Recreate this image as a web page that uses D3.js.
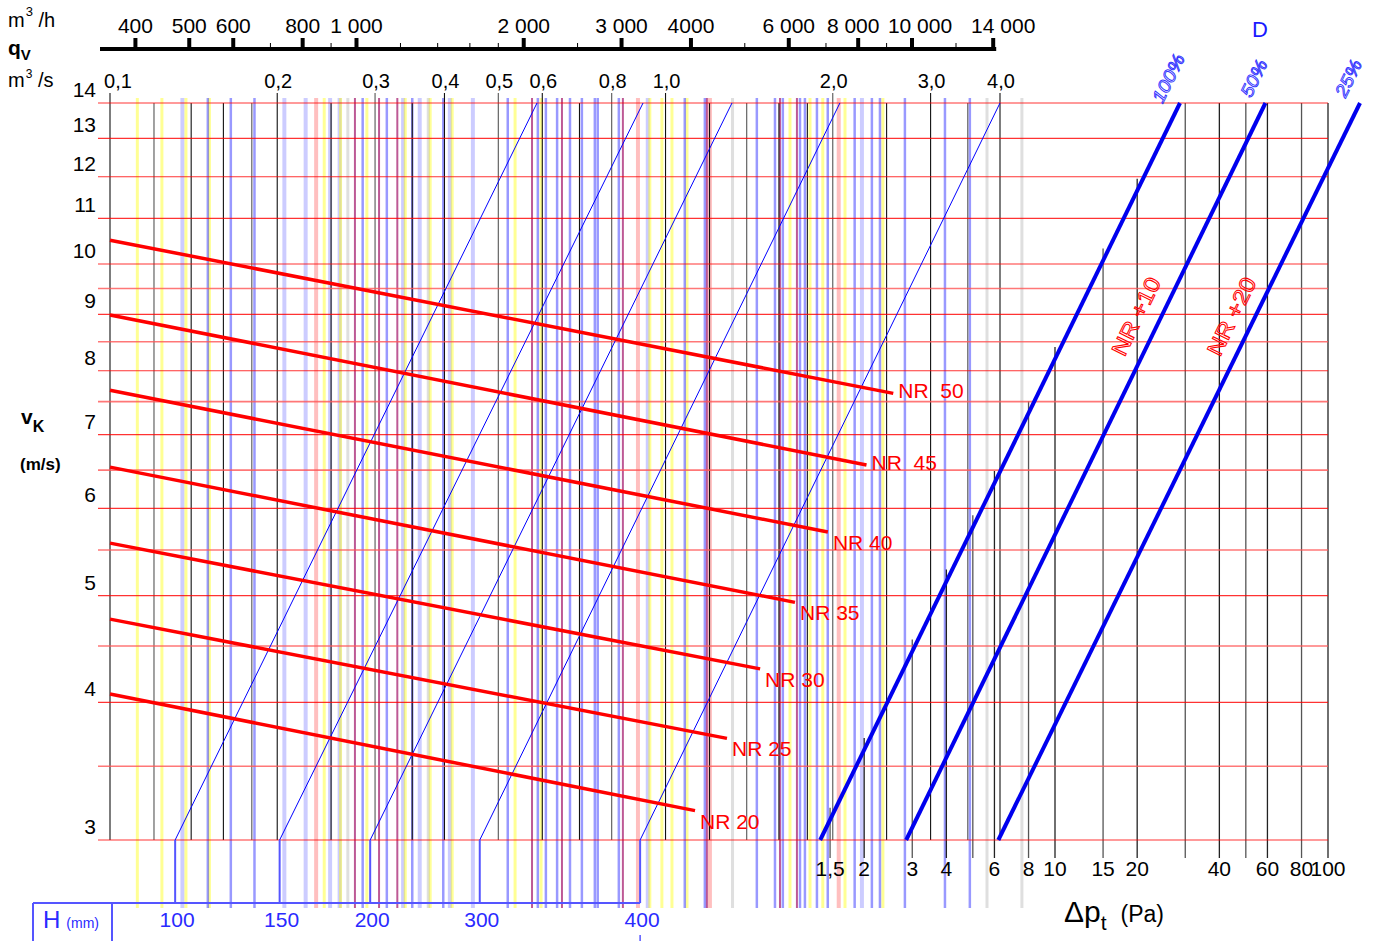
<!DOCTYPE html>
<html>
<head>
<meta charset="utf-8">
<script src="https://cdn.jsdelivr.net/npm/d3@7"></script>
<style>
body { margin: 0; background: #fff; }
svg { display: block; font-family: "Liberation Sans", Arial, sans-serif; }
</style>
</head>
<body>
<div id="chart"></div>
<script>
// flow qv (m3/s) ticks / grid
const qvTicks = [0.1, 0.2, 0.3, 0.4, 0.5, 0.6, 0.8, 1.0, 2.0, 3.0, 4.0];
const qvGrid = [0.1, 0.12, 0.14, 0.16, 0.18, 0.2, 0.25, 0.3, 0.35, 0.4, 0.5, 0.6, 0.7, 0.8, 1.0, 1.2, 1.4, 1.6, 1.8, 2.0, 2.5, 3.0, 3.5, 4.0];
// flow m3/h top scale
const qhMajor = [400, 500, 600, 800, 1000, 2000, 3000, 4000, 6000, 8000, 10000, 14000];
const qhLabels = ["400", "500", "600", "800", "1 000", "2 000", "3 000", "4000", "6 000", "8 000", "10 000", "14 000"];
const qhMinor = [700, 900, 1200, 1400, 1600, 1800, 2500, 5000, 7000, 9000, 12000];
// velocity vK (m/s)
const vTicks = [3, 4, 5, 6, 7, 8, 9, 10, 11, 12, 13, 14];
const vGrid = [3, 3.5, 4, 4.5, 5, 5.5, 6, 6.5, 7, 7.5, 8, 8.5, 9, 9.5, 10, 11, 12, 13, 14];
// pressure drop dpt (Pa)
const dpTicks = [1.5, 2, 3, 4, 6, 8, 10, 15, 20, 40, 60, 80, 100];
const dpGrid = [1.5, 2, 3, 4, 5, 6, 8, 10, 15, 20, 30, 40, 50, 60, 80, 100];

// coloured background lines (qv, m3/s)
const blueLines = [0.150, 0.165, 0.182, 0.285, 0.315, 0.350, 0.398, 0.520, 0.589, 0.609, 0.638, 0.673, 0.707, 0.746, 0.755, 0.824, 1.083, 1.177, 1.46, 1.574, 1.626, 1.746, 1.782, 1.873, 1.959, 2.19, 2.352, 2.432, 2.697, 3.184, 3.53];
const blueFaint = [0.135, 0.206, 0.225, 0.249, 0.259, 0.337, 0.361, 0.409, 0.450, 0.929, 2.257];
const yellowLines = [0.112, 0.124, 0.137, 0.151, 0.243, 0.260, 0.290, 0.340, 0.377, 0.413, 0.536, 0.597, 0.937, 0.985, 1.027, 1.093, 1.675, 1.82, 1.919, 2.104, 2.462];
const redLines = [0.235, 0.892, 1.202, 2.05];
const purpleLines = [0.276, 0.305, 0.329, 0.575, 0.651, 0.838, 1.187, 1.607, 1.724];
const grayLines = [0.268, 0.374, 1.32, 3.79, 4.38];

// duct height H lines: qv at 3 m/s and at 14 m/s
const hSizes = [100, 150, 200, 300, 400];
const hQvLow = [0.131, 0.202, 0.294, 0.463, 0.90];
const hQvHigh = [0.587, 0.911, 1.317, 2.06, 4.0];

// NR lines: v at qv = 0.1, end point (qv, v)
const nrNames = ["NR  50", "NR  45", "NR 40", "NR 35", "NR 30", "NR 25", "NR 20"];
const nrStartV = [10.51, 8.99, 7.68, 6.54, 5.58, 4.76, 4.07];
const nrEndQv = [2.57, 2.30, 1.96, 1.71, 1.48, 1.29, 1.13];
const nrEndV = [7.63, 6.57, 5.71, 4.93, 4.29, 3.71, 3.19];

// damper position D lines: dp at 3 m/s and at 14 m/s
const dNames = ["100%", "50%", "25%"];
const dLow = [1.38, 2.85, 6.2];
const dHigh = [28.7, 59, 131];
const nrPlus = ["NR +10", "NR +20"];
const nrPlusDp = [21, 47];
const nrPlusV = [8.9, 8.9];

const W = 1376, H = 941;
const svg = d3.select('#chart').append('svg').attr('width', W).attr('height', H);

const x = d3.scaleLog().domain([0.1, 4]).range([110, 1000]);
const y = d3.scaleLog().domain([3, 14]).range([840, 103]);
const xh = d3.scaleLog().domain([0.1 * 3600, 4 * 3600]).range([110, 1000]);
const xp = d3.scaleLog().domain([1, 100]).range([782, 1328]);
const comma = d => d3.format('.1f')(d).replace('.', ',');

// background coloured lines
let bg = svg.append('g').attr('class', 'bgLines');
function vlines(vals, color, width, opacity) {
	bg.append('g').selectAll('line').data(vals).enter().append('line')
		.attr('x1', d => x(d)).attr('x2', d => x(d))
		.attr('y1', 98).attr('y2', 908)
		.attr('stroke', color).attr('stroke-width', width).attr('stroke-opacity', opacity);
}
vlines(blueFaint, '#0000ff', 4, 0.2);
vlines(yellowLines, '#ffff00', 3, 0.42);
vlines(redLines, '#ff0000', 4, 0.25);
vlines(grayLines, '#808080', 3, 0.25);
vlines(blueLines, '#0000ff', 2.5, 0.4);
vlines(purpleLines, '#99005c', 2, 0.65);

// black grid (left)
svg.append('g').selectAll('line').data(qvGrid).enter().append('line')
	.attr('x1', d => x(d)).attr('x2', d => x(d))
	.attr('y1', d => qvTicks.indexOf(d) >= 0 ? 93 : 103).attr('y2', 840)
	.attr('stroke', (d, i) => i % 3 == 1 ? '#555' : '#111').attr('stroke-width', 1.1);

// right panel grid: starts just above the 100% line
let dx1 = xp(dLow[0]), dy1 = y(3), dx2 = xp(dHigh[0]), dy2 = y(14);
svg.append('g').selectAll('line').data(dpGrid).enter().append('line')
	.attr('x1', d => xp(d)).attr('x2', d => xp(d))
	.attr('y1', d => Math.max(103, dy1 + (xp(d) - dx1) * (dy2 - dy1) / (dx2 - dx1) - 12))
	.attr('y2', 858)
	.attr('stroke', (d, i) => i % 2 ? '#222' : '#555').attr('stroke-width', 1.3);

// horizontal red grid
svg.append('g').selectAll('line').data(vGrid).enter().append('line')
	.attr('x1', 98).attr('x2', 1328)
	.attr('y1', d => y(d)).attr('y2', d => y(d))
	.attr('stroke', d => Number.isInteger(d) ? '#ff0000' : '#ff5555')
	.attr('stroke-width', d => Number.isInteger(d) ? 1.2 : 1.6)
	.attr('stroke-opacity', 0.8);

// H lines
let hG = svg.append('g').attr('class', 'hLines');
hSizes.forEach((h, i) => {
	hG.append('line').attr('x1', x(hQvLow[i])).attr('x2', x(hQvHigh[i]))
		.attr('y1', y(3)).attr('y2', y(14)).attr('stroke', '#0000ff').attr('stroke-width', 1);
	hG.append('line').attr('x1', x(hQvLow[i])).attr('x2', x(hQvLow[i]))
		.attr('y1', y(3)).attr('y2', 903).attr('stroke', '#5555ff').attr('stroke-width', 2);
	hG.append('text').attr('x', x(hQvLow[i]) + 2).attr('y', 927).attr('text-anchor', 'middle')
		.attr('font-size', 21).attr('fill', '#2a2aff').text(h);
});
hG.append('line').attr('x1', 33).attr('x2', x(hQvLow[4])).attr('y1', 903).attr('y2', 903)
	.attr('stroke', '#5555ff').attr('stroke-width', 2);
hG.append('line').attr('x1', 33).attr('x2', 33).attr('y1', 903).attr('y2', 941).attr('stroke', '#5555ff').attr('stroke-width', 2);
hG.append('line').attr('x1', 112).attr('x2', 112).attr('y1', 903).attr('y2', 941).attr('stroke', '#5555ff').attr('stroke-width', 2);
hG.append('line').attr('x1', x(hQvLow[4])).attr('x2', x(hQvLow[4])).attr('y1', 935).attr('y2', 941).attr('stroke', '#5555ff').attr('stroke-width', 1.5);
let hT = hG.append('text').attr('x', 43).attr('y', 928).attr('fill', '#2a2aff');
hT.append('tspan').attr('font-size', 24).text('H');
hT.append('tspan').attr('font-size', 14).attr('dx', 6).text('(mm)');

// NR lines
let nrG = svg.append('g').attr('class', 'nr');
nrNames.forEach((n, i) => {
	nrG.append('line').attr('x1', x(0.1)).attr('y1', y(nrStartV[i]))
		.attr('x2', x(nrEndQv[i])).attr('y2', y(nrEndV[i]))
		.attr('stroke', '#ff0000').attr('stroke-width', 3.5);
	nrG.append('text').attr('x', x(nrEndQv[i]) + 5).attr('y', y(nrEndV[i]) + (i < 2 ? 5 : 18))
		.attr('font-size', 21).attr('fill', '#ff0000').attr('xml:space', 'preserve').text(n);
});

// D lines
let dG = svg.append('g').attr('class', 'dLines');
let line = d3.line().x(d => xp(d[1])).y(d => y(d[0]));
dNames.forEach((n, i) => {
	dG.append('path').attr('d', line([[3, dLow[i]], [14, dHigh[i]]]))
		.attr('stroke', '#0000ee').attr('stroke-width', 4).attr('fill', 'none');
	dG.append('text').attr('transform', `translate(${xp(dHigh[i]) - 6},${y(14) - 22}) rotate(-64)`)
		.attr('text-anchor', 'middle').attr('font-size', 18).attr('font-style', 'italic')
		.attr('textLength', n.length * 13).attr('lengthAdjust', 'spacingAndGlyphs')
		.attr('fill', 'none').attr('stroke', '#3333ff').attr('stroke-width', 0.9).text(n);
});
dG.append('text').attr('x', 1260).attr('y', 37).attr('text-anchor', 'middle')
	.attr('font-size', 22).attr('fill', '#1a1aff').text('D');
nrPlus.forEach((n, i) => {
	dG.append('text').attr('transform', `translate(${xp(nrPlusDp[i])},${y(nrPlusV[i])}) rotate(-64)`)
		.attr('text-anchor', 'middle').attr('font-size', 22).attr('xml:space', 'preserve')
		.attr('textLength', 84).attr('lengthAdjust', 'spacingAndGlyphs')
		.attr('fill', 'none').attr('stroke', '#ff0000').attr('stroke-width', 1).text(n);
});

// top m3/h axis
const labelShift = {8000: -5, 10000: 8, 14000: 10};
let topG = svg.append('g').attr('class', 'topAxis');
topG.append('line').attr('x1', 100).attr('x2', xh(14000) + 3).attr('y1', 49).attr('y2', 49)
	.attr('stroke', '#000').attr('stroke-width', 4);
topG.selectAll('line.major').data(qhMajor).enter().append('line').attr('class', 'major')
	.attr('x1', d => xh(d)).attr('x2', d => xh(d)).attr('y1', 38).attr('y2', 49)
	.attr('stroke', '#000').attr('stroke-width', 4);
topG.selectAll('line.minor').data(qhMinor).enter().append('line').attr('class', 'minor')
	.attr('x1', d => xh(d)).attr('x2', d => xh(d)).attr('y1', 43).attr('y2', 49)
	.attr('stroke', '#000').attr('stroke-width', 1);
topG.selectAll('text').data(qhMajor).enter().append('text')
	.attr('x', d => xh(d) + (labelShift[d] || 0)).attr('y', 33).attr('text-anchor', 'middle')
	.attr('font-size', 21).attr('xml:space', 'preserve').text((d, i) => qhLabels[i]);

// m3/s labels
svg.append('g').selectAll('text').data(qvTicks).enter().append('text')
	.attr('x', d => x(d) + (d == 0.1 ? 8 : 1)).attr('y', 88).attr('text-anchor', 'middle')
	.attr('font-size', 20).text(d => comma(d));

// v labels
svg.append('g').selectAll('text').data(vTicks).enter().append('text')
	.attr('x', 96).attr('y', d => y(d) - 6).attr('text-anchor', 'end')
	.attr('font-size', 21).text(d => d);

// dp labels
svg.append('g').selectAll('text').data(dpTicks).enter().append('text')
	.attr('x', d => xp(d)).attr('y', 876).attr('text-anchor', 'middle')
	.attr('font-size', 21).text(d => String(d).replace('.', ','));

// axis titles
let t1 = svg.append('text').attr('x', 8).attr('y', 27).attr('font-size', 20);
t1.append('tspan').text('m');
t1.append('tspan').attr('font-size', 13).attr('dy', -11).attr('dx', 1).text('3');
t1.append('tspan').attr('dy', 11).text(' /h');
let t2 = svg.append('text').attr('x', 8).attr('y', 55).attr('font-size', 21).attr('font-weight', 'bold');
t2.append('tspan').text('q');
t2.append('tspan').attr('font-size', 15).attr('dy', 5).text('V');
let t3 = svg.append('text').attr('x', 8).attr('y', 87).attr('font-size', 20);
t3.append('tspan').text('m');
t3.append('tspan').attr('font-size', 12).attr('dy', -9).attr('dx', 1).text('3');
t3.append('tspan').attr('dy', 9).text(' /s');
let t4 = svg.append('text').attr('x', 21).attr('y', 424).attr('font-size', 21).attr('font-weight', 'bold');
t4.append('tspan').text('v');
t4.append('tspan').attr('font-size', 16).attr('dy', 8).text('K');
svg.append('text').attr('x', 20).attr('y', 470).attr('font-size', 17).attr('font-weight', 'bold').text('(m/s)');
let t5 = svg.append('text').attr('x', 1064).attr('y', 922).attr('font-size', 30);
t5.append('tspan').text('Δp');
t5.append('tspan').attr('font-size', 21).attr('dy', 8).text('t');
t5.append('tspan').attr('font-size', 23).attr('dy', -8).attr('dx', 14).text('(Pa)');
</script>
</body>
</html>
